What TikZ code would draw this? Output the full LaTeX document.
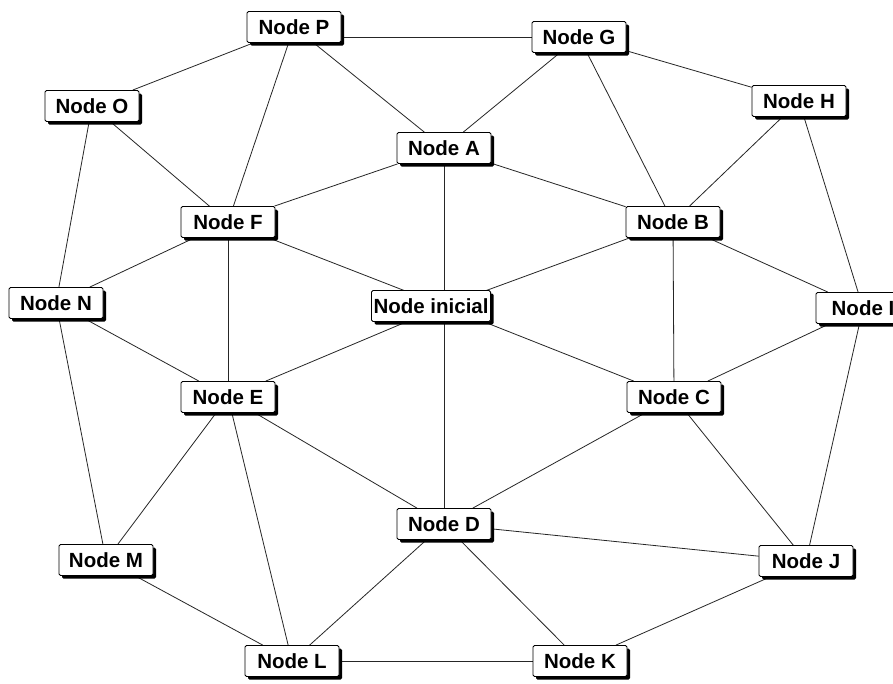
\documentclass[tikz,border=0pt]{standalone}
\usepackage{fontspec}
\setmainfont{Liberation Sans}
\usetikzlibrary{shadows,backgrounds}
\tikzset{
  nd/.style={draw=black, line width=0.9pt, fill=white, rounded corners=1.5pt,
    inner xsep=2pt, inner ysep=0pt, minimum height=31pt, minimum width=94pt,
    font=\fontsize{20.5}{24}\selectfont\bfseries,
    drop shadow={shadow xshift=3pt, shadow yshift=-3pt, fill=black, opacity=1}},
  ed/.style={draw=black!85, line width=0.8pt}
}
\begin{document}
\begin{tikzpicture}[x=1pt,y=-1pt]
\useasboundingbox (0,0) rectangle (893,683);
\node[nd] (P) at (294,27) {Node P};
\node[nd] (G) at (579,37) {Node G};
\node[nd] (O) at (92,106) {Node O};
\node[nd] (H) at (799,101) {Node H};
\node[nd] (A) at (444,148) {Node A};
\node[nd] (F) at (228,222) {Node F};
\node[nd] (B) at (673,222) {Node B};
\node[nd] (N) at (56,303) {Node N};
\node[nd, anchor=east] (S) at (491,306) {Node inicial};
\coordinate (s) at (444,306);
\node[nd] (I) at (863,308) {Node I};
\node[nd] (E) at (228,397) {Node E};
\node[nd] (C) at (674,397) {Node C};
\node[nd] (D) at (444,524) {Node D};
\node[nd] (M) at (106,560) {Node M};
\node[nd] (J) at (806,561) {Node J};
\node[nd] (L) at (292,661) {Node L};
\node[nd] (K) at (580,661) {Node K};
\begin{scope}[on background layer]
\fill[white] (0,0) rectangle (893,683);
\draw[ed] (G.center) -- (G.center -| P.center);
\foreach \a/\b in {P/O,P/F,P/A,G/A,G/B,G/H,O/F,O/N,H/B,H/I,A/F,A/B,A/s,
  F/N,F/s,F/E,B/s,B/C,B/I,N/E,N/M,s/E,s/C,s/D,I/C,I/J,E/D,E/M,E/L,C/D,C/J,
  D/J,D/L,D/K,M/L,L/K,K/J}
  \draw[ed] (\a) -- (\b);
\end{scope}
\end{tikzpicture}
\end{document}
